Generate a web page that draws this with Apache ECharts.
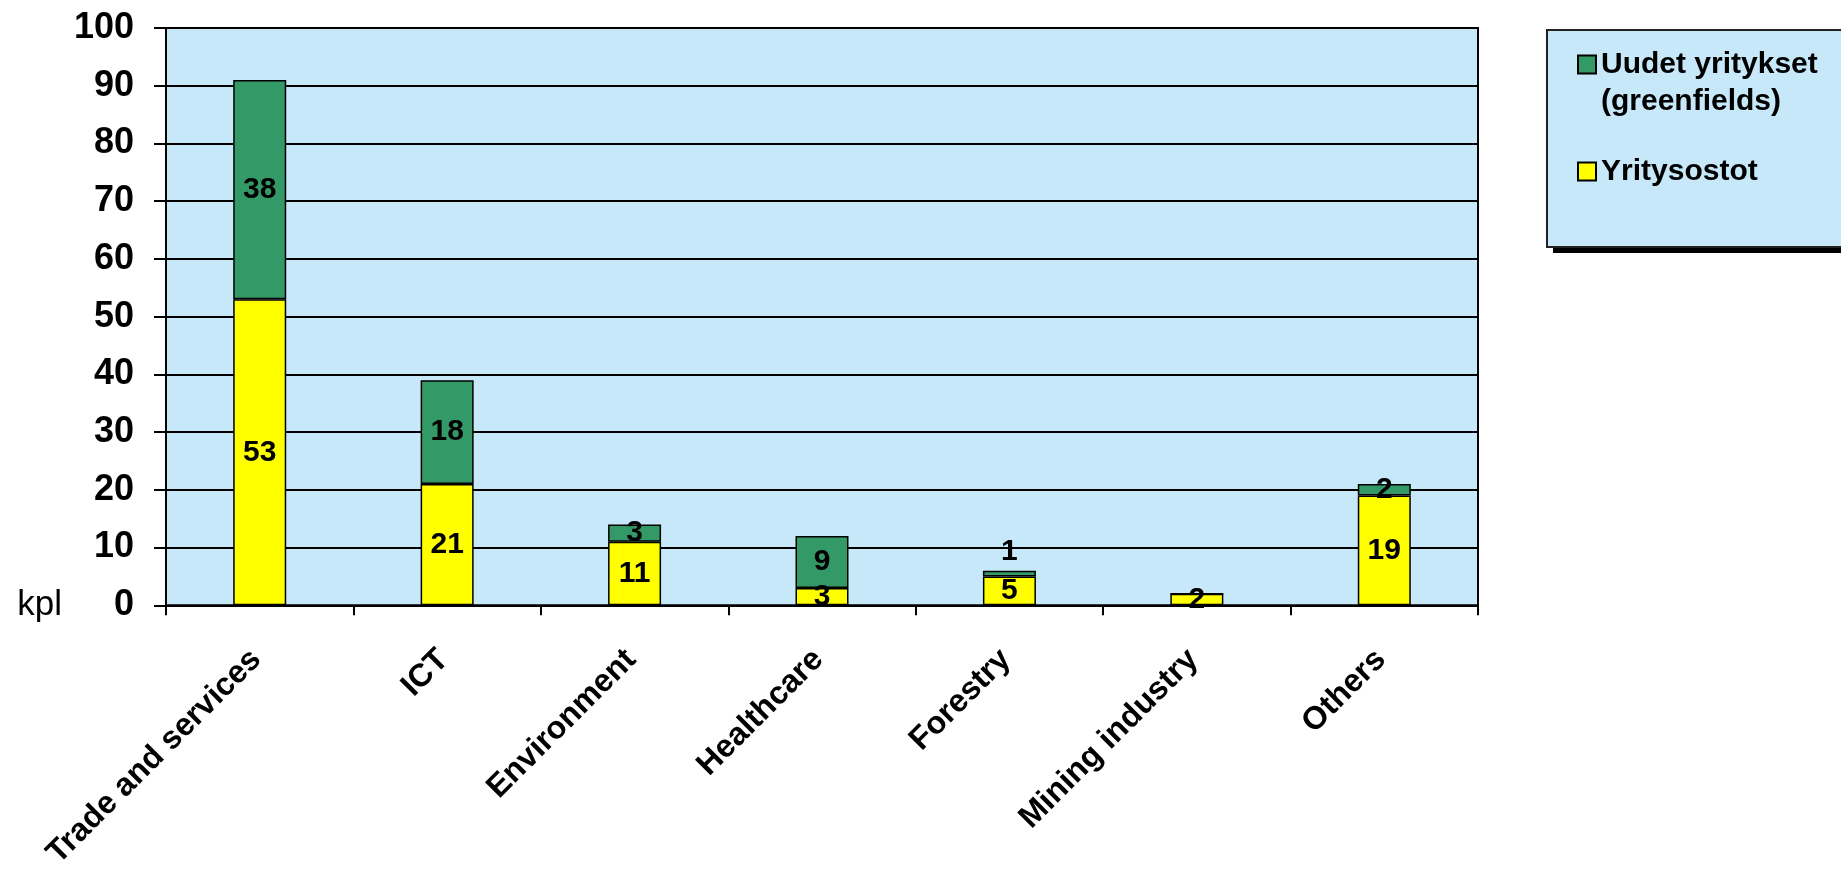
<!DOCTYPE html>
<html>
<head>
<meta charset="utf-8">
<script src="https://cdn.jsdelivr.net/npm/echarts@6/dist/echarts.min.js"></script>
<style>
html,body{margin:0;padding:0;background:#fff;}
#chart{width:1841px;height:872px;}
</style>
</head>
<body>
<div id="chart"></div>
<script>
// ---- data ----
const categories = ['Trade and services', 'ICT', 'Environment', 'Healthcare', 'Forestry', 'Mining industry', 'Others'];
const yritysostot = [53, 21, 11, 3, 5, 2, 19];
const uudetYritykset = [38, 18, 3, 9, 1, 0, 2];
const yTicks = { min: 0, max: 100, interval: 10 };
const seriesNames = ['Uudet yritykset\n(greenfields)', 'Yritysostot'];

const FONT = "'Liberation Sans', Arial, sans-serif";
const PLOT_BG = '#C6E8F8';

function labelFmt(p) { return p.value === 0 ? '' : String(p.value); }
function thinTop(arr) {
  return arr.map(v => v > 0 && v <= 1 ? { value: v, label: { position: 'top', distance: 4 } } : v);
}

const chart = echarts.init(document.getElementById('chart'));
const barLabel = {
  show: true, position: 'inside', color: '#000', fontFamily: FONT,
  fontWeight: 'bold', fontSize: 30, formatter: labelFmt
};

chart.setOption({
  animation: false,
  backgroundColor: '#fff',
  grid: {
    left: 166, right: 363, top: 28, bottom: 247,
    show: true, backgroundColor: PLOT_BG, borderColor: '#000', borderWidth: 2
  },
  graphic: [
    { // legend box shadow
      type: 'rect', z: 1,
      shape: { x: 1553, y: 36, width: 340, height: 217 },
      style: { fill: '#000' }
    },
    { // legend box
      type: 'rect', z: 2,
      shape: { x: 1547, y: 30, width: 340, height: 217 },
      style: { fill: PLOT_BG, stroke: '#222', lineWidth: 2 }
    }
  ],
  legend: {
    z: 10,
    orient: 'vertical', left: 1577, top: 9, padding: 0,
    itemWidth: 18, itemHeight: 18, itemGap: 33,
    icon: 'rect',
    textStyle: { fontFamily: FONT, fontWeight: 'bold', fontSize: 30, lineHeight: 37, color: '#000' },
    formatter: name => name.indexOf('\n') >= 0 ? '\n' + name : name,
    data: seriesNames
  },
  xAxis: {
    type: 'category', data: categories,
    axisLine: { show: true, lineStyle: { color: '#000', width: 2 } },
    axisTick: { show: true, length: 10, lineStyle: { color: '#000', width: 2 } },
    axisLabel: {
      interval: 0, rotate: 45, margin: 46, color: '#000',
      fontFamily: FONT, fontWeight: 'bold', fontSize: 32,
      padding: [0, 5, 15, 0]
    },
    splitLine: { show: false }
  },
  yAxis: {
    type: 'value', min: yTicks.min, max: yTicks.max, interval: yTicks.interval,
    name: 'kpl', nameLocation: 'start', nameGap: 0,
    nameTextStyle: { fontFamily: FONT, fontSize: 35, color: '#000', align: 'right',
                     verticalAlign: 'middle', padding: [0, 104, 0, 0] },
    axisLine: { show: true, lineStyle: { color: '#000', width: 2 } },
    axisTick: { show: true, length: 12, lineStyle: { color: '#000', width: 2 } },
    axisLabel: { margin: 32, color: '#000', fontFamily: FONT, fontWeight: 'bold', fontSize: 36 },
    splitLine: { show: true, lineStyle: { color: '#000', width: 2 } }
  },
  series: [
    {
      name: seriesNames[1], type: 'bar', stack: 'total', barWidth: 53,
      data: thinTop(yritysostot),
      itemStyle: { color: '#FFFF00', borderColor: '#000', borderWidth: 1.5 },
      label: barLabel
    },
    {
      name: seriesNames[0], type: 'bar', stack: 'total', barWidth: 53,
      data: thinTop(uudetYritykset),
      itemStyle: { color: '#339966', borderColor: '#000', borderWidth: 1.5 },
      label: barLabel
    }
  ]
});
</script>
</body>
</html>
